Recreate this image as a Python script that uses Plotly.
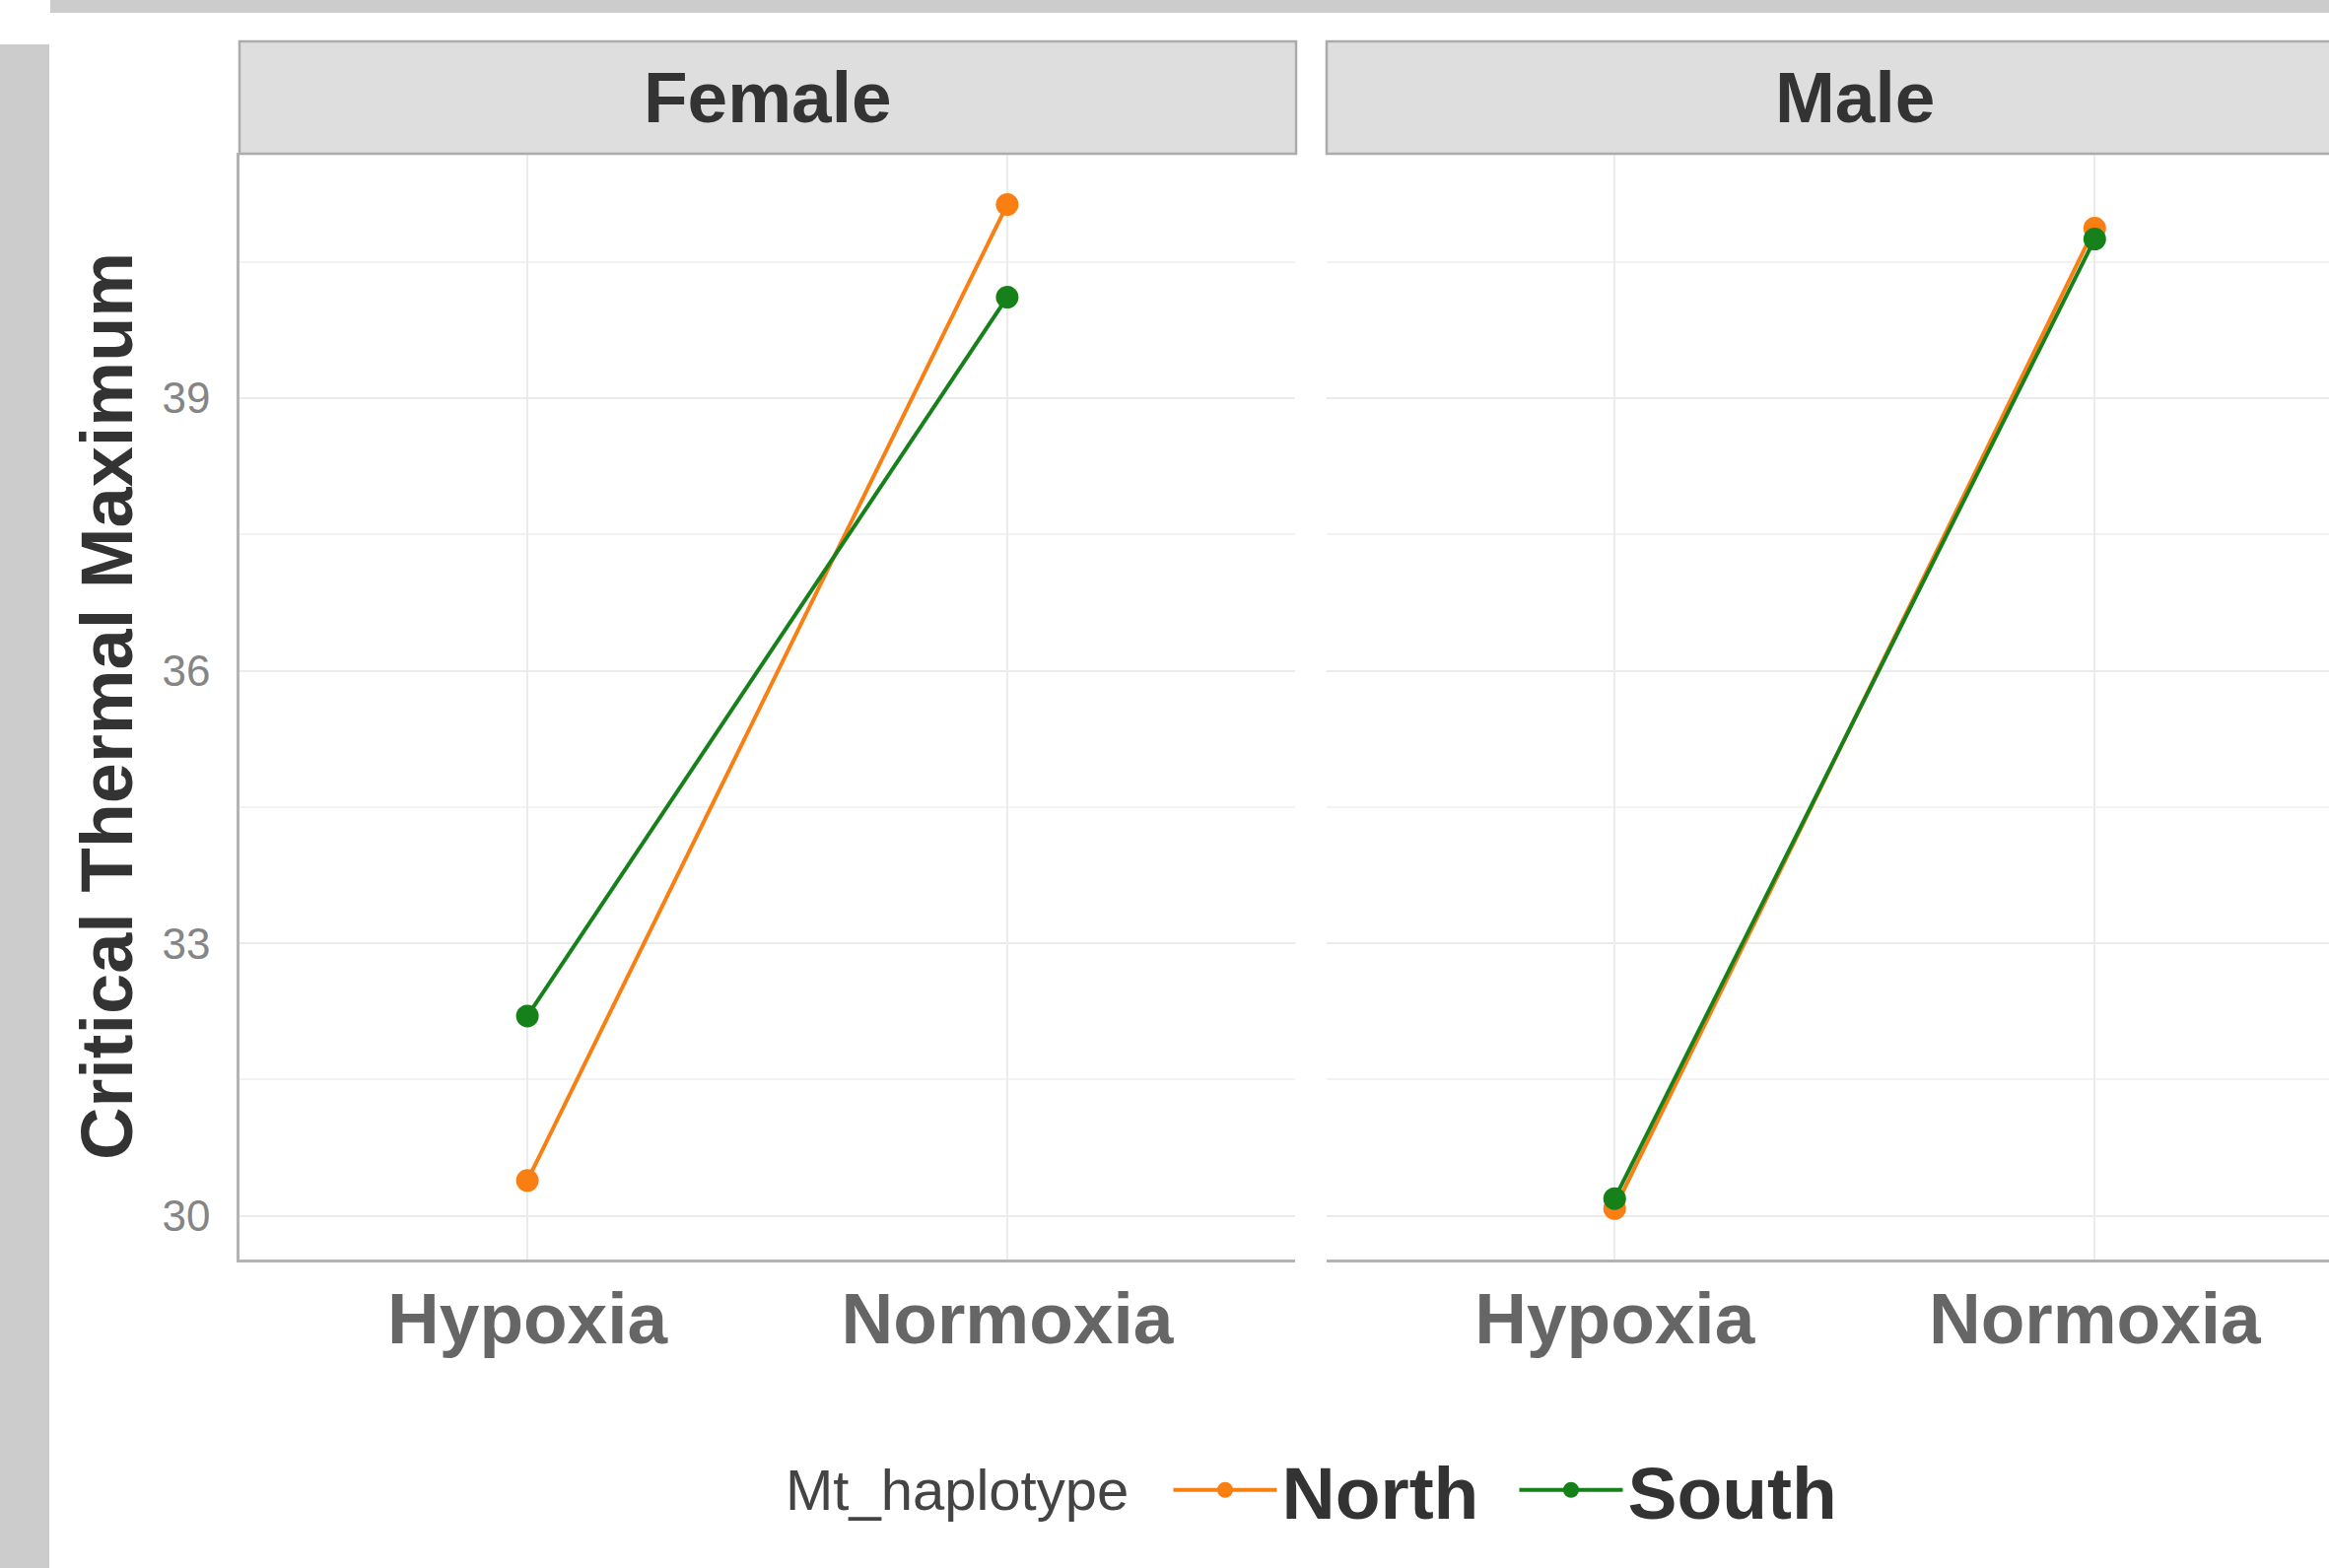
import plotly.graph_objects as go

conditions = ["Hypoxia", "Normoxia"]
panels = ["Female", "Male"]
haplotypes = ["North", "South"]
female_north = [30.39, 41.13]
female_south = [32.20, 40.11]
male_north = [30.08, 40.87]
male_south = [30.19, 40.75]
y_ticks = [30, 33, 36, 39]
colors = {"North": "#F97F12", "South": "#16801A"}

W, H = 2363, 1591
FONT = "Liberation Sans, Arial, Helvetica, sans-serif"

fig = go.Figure()
series = {("Female", "North"): female_north, ("Female", "South"): female_south,
          ("Male", "North"): male_north, ("Male", "South"): male_south}
for (panel, hap), vals in series.items():
    ax = "x" if panel == "Female" else "x2"
    fig.add_trace(go.Scatter(
        x=conditions, y=vals, mode="lines+markers", name=hap,
        legendgroup=hap, showlegend=(panel == "Female"),
        line=dict(color=colors[hap], width=4),
        marker=dict(color=colors[hap], size=23),
        xaxis=ax, yaxis="y" if panel == "Female" else "y2"))

def px_x(v):
    return v / W

def px_y(v):
    return 1 - v / H

left_dom = [px_x(243), px_x(1314)]
right_dom = [px_x(1346), 1.0]
y_dom = [px_y(1278), px_y(155)]
y_range = [29.52, 41.70]

grid = "#EBEBEB"
axis_line = "#B3B3B3"

common_x = dict(type="category", showgrid=True, gridcolor=grid, gridwidth=2,
                showline=True, linecolor=axis_line, linewidth=2.5, zeroline=False,
                ticks="", ticklabelstandoff=-5,
                tickfont=dict(family=FONT, size=73, color="#666666", weight="bold"))
fig.update_layout(
    width=W, height=H, margin=dict(l=0, r=0, t=0, b=0),
    paper_bgcolor="white", plot_bgcolor="white",
    xaxis=dict(domain=left_dom, range=[-0.6, 1.6], anchor="y", **common_x),
    xaxis2=dict(domain=right_dom, range=[-0.6, 1.488], anchor="y2", **common_x),
    yaxis=dict(domain=y_dom, range=y_range, tickvals=y_ticks, showgrid=True,
               gridcolor=grid, gridwidth=2, zeroline=False, showline=True,
               linecolor=axis_line, linewidth=2.5, ticks="", ticklabelstandoff=18,
               minor=dict(dtick=1.5, tick0=30, showgrid=True, gridcolor="#F3F3F3", gridwidth=1.5),
               tickfont=dict(family=FONT, size=44, color="#858585")),
    yaxis2=dict(domain=y_dom, range=y_range, tickvals=y_ticks, showgrid=True,
                gridcolor=grid, gridwidth=2, zeroline=False, showline=False,
                showticklabels=False, anchor="x2",
                minor=dict(dtick=1.5, tick0=30, showgrid=True, gridcolor="#F3F3F3", gridwidth=1.5)),
    legend=dict(orientation="h", x=px_x(795), xanchor="left", y=px_y(1512), yanchor="middle",
                title=dict(text="Mt_haplotype\u00a0\u00a0", side="left",
                           font=dict(family=FONT, size=58, color="#444444", weight="normal")),
                font=dict(family=FONT, size=75, color="#333333", weight="bold"),
                bgcolor="rgba(0,0,0,0)", itemwidth=105, tracegroupgap=0,
                entrywidth=231, entrywidthmode="pixels"),
    showlegend=True,
)

shapes = [
    dict(type="rect", xref="paper", yref="paper", x0=px_x(51), x1=1, y0=px_y(13), y1=1,
         fillcolor="#CCCCCC", line=dict(width=0), layer="below"),
    dict(type="rect", xref="paper", yref="paper", x0=0, x1=px_x(50), y0=0, y1=px_y(45),
         fillcolor="#CCCCCC", line=dict(width=0), layer="below"),
    dict(type="rect", xref="paper", yref="paper", x0=px_x(243), x1=px_x(1315), y0=px_y(156), y1=px_y(42),
         fillcolor="#DEDEDE", line=dict(color="#ABABAB", width=2.5)),
    dict(type="rect", xref="paper", yref="paper", x0=px_x(1346), x1=1.01, y0=px_y(156), y1=px_y(42),
         fillcolor="#DEDEDE", line=dict(color="#ABABAB", width=2.5)),
]
fig.update_layout(shapes=shapes)

annotations = [
    dict(text="Female", xref="x", yref="paper", x=0.5, y=px_y(99), showarrow=False,
         xanchor="center", yanchor="middle",
         font=dict(family=FONT, size=73, color="#333333", weight="bold")),
    dict(text="Male", xref="x2", yref="paper", x=0.5, y=px_y(99), showarrow=False,
         xanchor="center", yanchor="middle",
         font=dict(family=FONT, size=73, color="#333333", weight="bold")),
    dict(text="Critical Thermal Maximum", xref="paper", yref="paper", x=px_x(108), y=px_y(717),
         showarrow=False, textangle=-90, xanchor="center", yanchor="middle",
         font=dict(family=FONT, size=74, color="#333333", weight="bold")),
]
fig.update_layout(annotations=annotations)

fig.write_html("out.html", config={"displayModeBar": False},
               post_script="document.body.style.margin='0px';document.body.style.overflow='hidden';")
